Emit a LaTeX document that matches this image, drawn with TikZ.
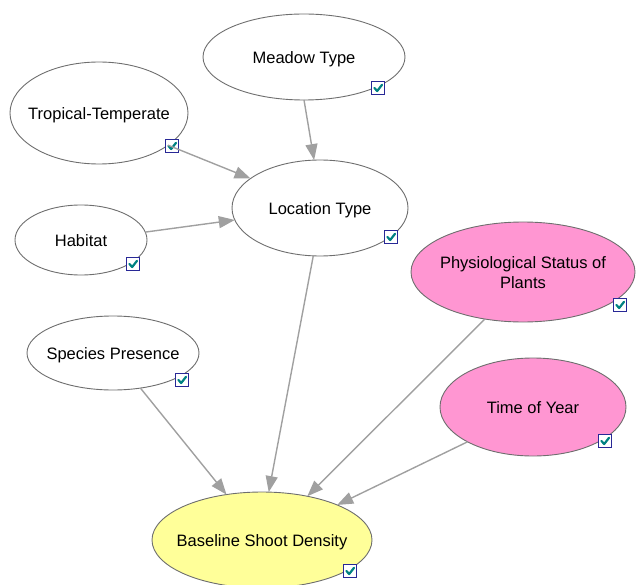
\documentclass[tikz,border=0pt]{standalone}
\usepackage{fontspec}
\setmainfont{Liberation Sans}
\usetikzlibrary{shapes.geometric,arrows.meta}
\definecolor{edgegray}{RGB}{160,160,160}
\definecolor{rimgray}{RGB}{110,110,110}
\definecolor{pinkfill}{RGB}{255,150,210}
\definecolor{yellowfill}{RGB}{255,255,153}
\definecolor{boxblue}{RGB}{40,40,150}
\definecolor{tickteal}{RGB}{0,130,130}
\newcommand{\lbl}[1]{\makebox[0pt]{\raisebox{-2.5pt}[\height][\depth]{\begin{tabular}{@{}c@{}}#1\end{tabular}}}}
\tikzset{
  var/.style={ellipse, draw=rimgray, line width=0.9pt, fill=white, inner sep=0pt, outer sep=0pt, font=\fontsize{16.5}{20}\selectfont},
  link/.style={draw=edgegray, line width=1.4pt, -{Triangle[length=16pt,width=12pt]}},
  chk/.style={draw=boxblue, fill=white, line width=1.3pt, minimum size=13pt, inner sep=0pt, rectangle,
    path picture={\draw[tickteal, line width=2.2pt, line cap=round, line join=round]
      ([xshift=-3.6pt,yshift=0pt]path picture bounding box.center) -- ([xshift=-0.8pt,yshift=-3pt]path picture bounding box.center) -- ([xshift=4pt,yshift=3.2pt]path picture bounding box.center);}}
}
\begin{document}
\begin{tikzpicture}[x=1pt,y=-1pt]
\useasboundingbox (0,0) rectangle (639,585);
\node[var, minimum width=202pt, minimum height=86pt] (meadow) at (304,57) {\lbl{Meadow Type}};
\node[var, minimum width=178pt, minimum height=102pt] (trop) at (99,113) {\lbl{Tropical-Temperate}};
\node[var, minimum width=176pt, minimum height=96pt] (loc) at (320,208) {\lbl{Location Type}};
\node[var, minimum width=132pt, minimum height=70pt] (hab) at (81,240) {\lbl{Habitat}};
\node[var, fill=pinkfill, minimum width=224pt, minimum height=100pt] (phys) at (523,272) {\lbl{Physiological Status of\\Plants}};
\node[var, minimum width=172pt, minimum height=74pt] (spec) at (113,353) {\lbl{Species Presence}};
\node[var, fill=pinkfill, minimum width=186pt, minimum height=98pt] (time) at (533,407) {\lbl{Time of Year}};
\node[var, fill=yellowfill, minimum width=220pt, minimum height=96pt] (base) at (262,540) {\lbl{Baseline Shoot Density}};

\node[chk] (c1) at (378,88) {};
\node[chk] (c2) at (172,146) {};
\node[chk] (c3) at (391,237) {};
\node[chk] (c4) at (133,264) {};
\node[chk] (c5) at (620,305) {};
\node[chk] (c6) at (182,380) {};
\node[chk] (c7) at (605,441) {};
\node[chk] (c8) at (350,571) {};

\draw[link] (meadow.-90) -- (loc.97);
\draw[link] (trop.-25) -- (loc.157);
\draw[link] (hab.7) -- (loc.188);
\draw[link] (loc.-98) -- (base.82);
\draw[link] (spec.-52) -- (base.128);
\draw[link] (phys.-129) -- (base.44);
\draw[link] (time.-152) -- (base.25);
\end{tikzpicture}
\end{document}
